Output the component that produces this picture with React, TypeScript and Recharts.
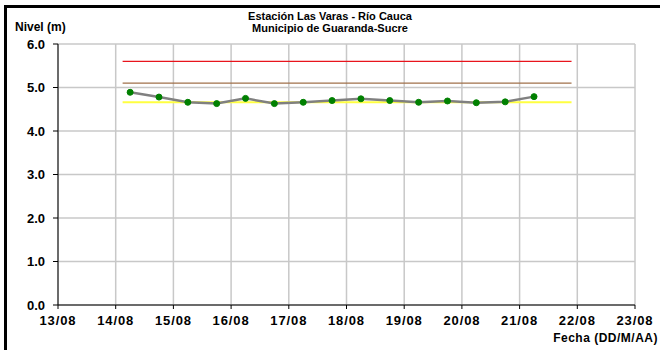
import React from "react";
import { CartesianGrid, Line, LineChart, XAxis, YAxis } from "recharts";

// day of August (12 h steps) and river level in metres
const fechas = [14.25, 14.75, 15.25, 15.75, 16.25, 16.75, 17.25, 17.75, 18.25, 18.75, 19.25, 19.75, 20.25, 20.75, 21.25];
const niveles = [4.89, 4.78, 4.66, 4.63, 4.75, 4.63, 4.66, 4.7, 4.74, 4.7, 4.66, 4.69, 4.65, 4.67, 4.79];

const xTicks = [13, 14, 15, 16, 17, 18, 19, 20, 21, 22, 23];
const yTicks = [0, 1, 2, 3, 4, 5, 6];

const rangoUmbral = [14.12, 21.9];
const umbralRojo = 5.6;
const umbralNaranja = 5.1;
const umbralAmarillo = 4.66;

const serie = fechas.map((x, i) => ({ x, nivel: niveles[i] }));
const linea = (v: number) => rangoUmbral.map((x) => ({ x, v }));

const font = "'Liberation Sans', Arial, sans-serif";
const tickY = { fill: "#000", fontSize: 13, fontWeight: 700, fontFamily: font };
const tickX = { ...tickY, letterSpacing: 0.9 };

export default function App() {
  return (
    <div style={{ position: "fixed", left: 0, top: 0, width: 660, height: 350, background: "#fff", overflow: "hidden", fontFamily: font }}>
      <div style={{ position: "absolute", left: 4, top: 5, width: 700, height: 400, border: "3px solid #000", boxSizing: "border-box" }} />
      <div style={{ position: "absolute", left: 0, width: 660, top: 10, textAlign: "center", fontSize: 11, fontWeight: 700, lineHeight: "12px" }}>
        Estación Las Varas - Río Cauca
        <br />
        Municipio de Guaranda-Sucre
      </div>
      <div style={{ position: "absolute", left: 15, top: 20, fontSize: 12, fontWeight: 700 }}>Nivel (m)</div>
      <div style={{ position: "absolute", right: 2, top: 331, fontSize: 12, fontWeight: 700, letterSpacing: 0.5 }}>Fecha (DD/M/AA)</div>
      <LineChart width={660} height={350} margin={{ top: 44, right: 25, bottom: 20, left: 8 }} style={{ position: "absolute", left: 0, top: 0 }}>
        <CartesianGrid stroke="#c8c8c8" strokeWidth={1.5} />
        <XAxis
          type="number"
          dataKey="x"
          domain={[13, 23]}
          ticks={xTicks}
          tickFormatter={(d: number) => `${d}/08`}
          tick={tickX}
          stroke="#000"
          tickSize={4}
          tickMargin={7}
          height={25}
          allowDataOverflow
        />
        <YAxis
          type="number"
          domain={[0, 6]}
          ticks={yTicks}
          tickFormatter={(v: number) => v.toFixed(1)}
          tick={tickY}
          stroke="#000"
          tickSize={5}
          tickMargin={8}
          width={50}
        />
        <Line data={linea(umbralRojo)} dataKey="v" stroke="#e8141c" strokeWidth={1.2} dot={false} isAnimationActive={false} />
        <Line data={linea(umbralNaranja)} dataKey="v" stroke="#a0704a" strokeWidth={1.4} dot={false} isAnimationActive={false} />
        <Line data={linea(umbralAmarillo)} dataKey="v" stroke="#ffff40" strokeWidth={2} dot={false} isAnimationActive={false} />
        <Line
          data={serie}
          dataKey="nivel"
          stroke="#808080"
          strokeWidth={2.5}
          dot={{ r: 3, fill: "#008000", stroke: "#008000", strokeWidth: 1 }}
          isAnimationActive={false}
        />
      </LineChart>
    </div>
  );
}
